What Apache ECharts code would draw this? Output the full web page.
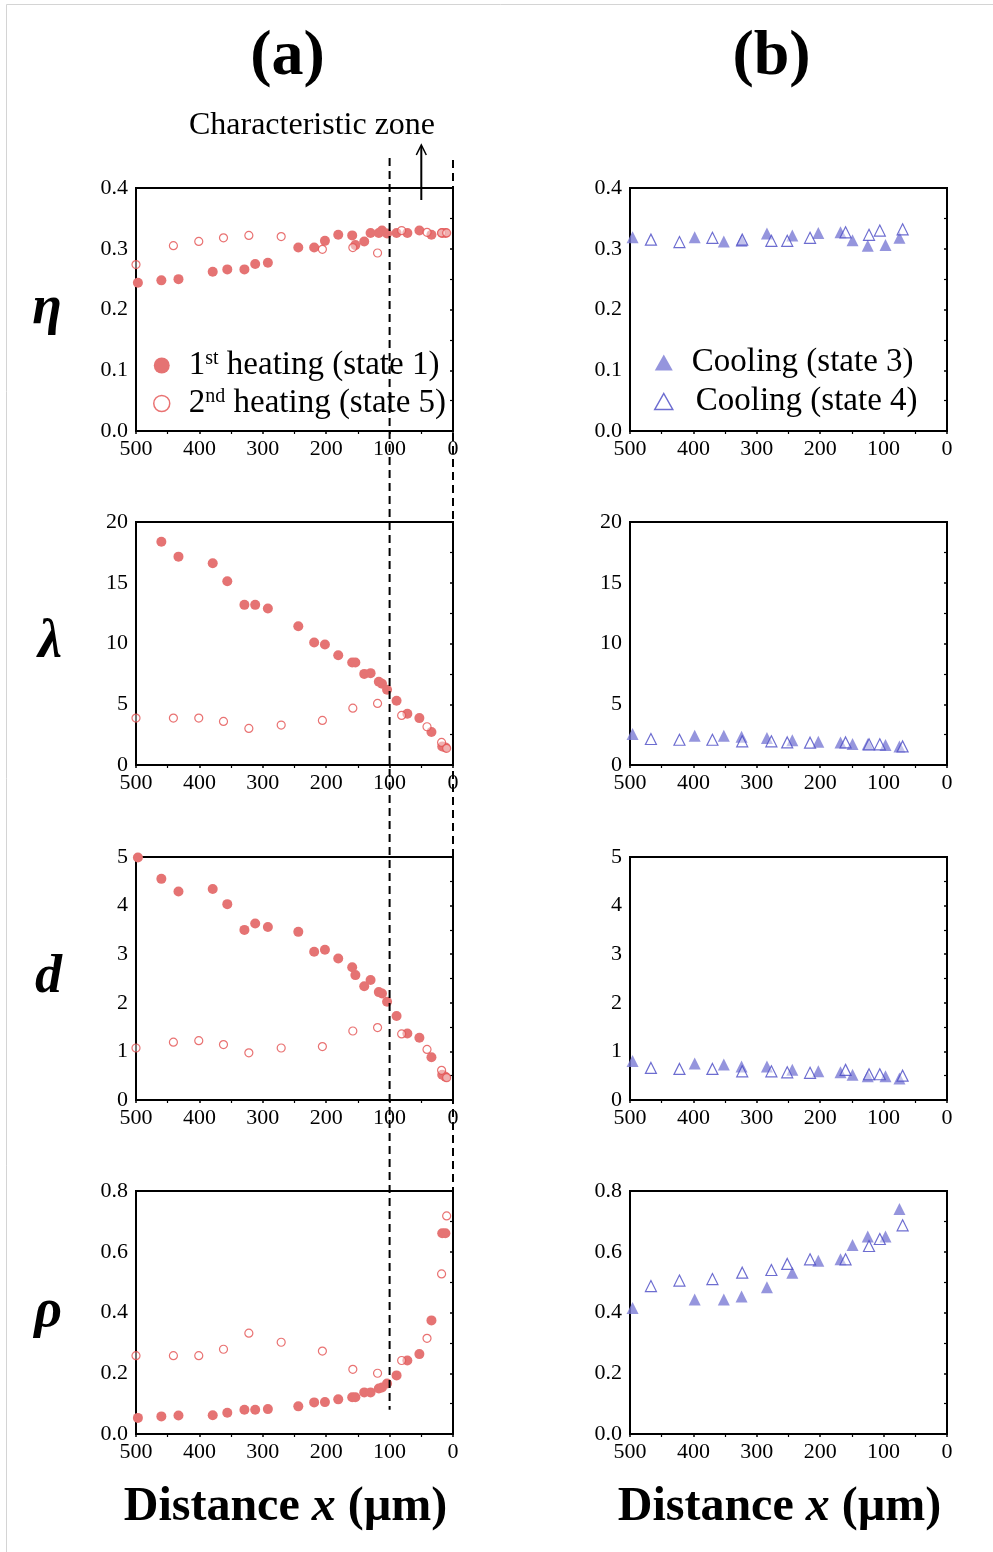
<!DOCTYPE html>
<html>
<head>
<meta charset="utf-8">
<script src="https://cdn.jsdelivr.net/npm/echarts@6/dist/echarts.min.js"></script>
<style>
  html, body { margin: 0; padding: 0; background: #fff; }
  #chart { width: 993px; height: 1552px; }
</style>
</head>
<body>
<div id="chart"></div>
<script>
// Distance from the surface (µm) for each measurement set
const dist1 = [497, 460, 433, 379, 356, 329, 312, 292, 244, 219, 202, 181, 159, 154, 140, 130, 117, 112, 104, 89, 72, 53, 34, 17, 12];
const dist5 = [500, 441, 401, 362, 322, 271, 206, 158, 119, 81, 41, 18, 10];
const dist3 = [496, 398, 352, 324, 284, 244, 203, 168, 149, 125, 97, 75];
const dist4 = [467, 422, 370, 323, 277, 252, 216, 160, 123, 106, 70];

// 1st heating (state 1)
const eta1 = [0.244, 0.248, 0.250, 0.262, 0.266, 0.266, 0.275, 0.277, 0.302, 0.302, 0.313, 0.323, 0.322, 0.306, 0.312, 0.326, 0.326, 0.330, 0.325, 0.326, 0.326, 0.330, 0.323, 0.326, 0.326];
const lambda1 = [null, 18.38, 17.15, 16.6, 15.12, 13.18, 13.18, 12.88, 11.42, 10.08, 9.92, 9.04, 8.44, 8.44, 7.5, 7.56, 6.85, 6.68, 6.19, 5.29, 4.22, 3.86, 2.71, 1.53, 1.45];
const d1 = [4.99, 4.55, 4.29, 4.34, 4.03, 3.50, 3.63, 3.56, 3.46, 3.05, 3.09, 2.91, 2.73, 2.57, 2.34, 2.47, 2.22, 2.19, 2.02, 1.73, 1.37, 1.28, 0.88, 0.52, 0.48];
const rho1 = [0.053, 0.058, 0.061, 0.062, 0.070, 0.080, 0.080, 0.082, 0.091, 0.104, 0.105, 0.114, 0.121, 0.121, 0.137, 0.137, 0.150, 0.153, 0.166, 0.193, 0.242, 0.263, 0.374, 0.661, 0.661];

// 2nd heating (state 5)
const eta5 = [0.274, 0.305, 0.312, 0.318, 0.322, 0.320, 0.299, 0.302, 0.293, 0.330, 0.327, 0.326, 0.326];
const lambda5 = [3.86, 3.86, 3.86, 3.59, 3.01, 3.29, 3.67, 4.68, 5.07, 4.08, 3.15, 1.86, 1.37];
const d5 = [1.07, 1.19, 1.22, 1.14, 0.97, 1.07, 1.10, 1.42, 1.49, 1.36, 1.04, 0.61, 0.46];
const rho5 = [0.258, 0.258, 0.258, 0.279, 0.332, 0.302, 0.273, 0.213, 0.200, 0.242, 0.315, 0.527, 0.718];

// Cooling (state 3)
const eta3 = [0.319, 0.319, 0.312, 0.313, 0.325, 0.322, 0.326, 0.327, 0.314, 0.305, 0.306, 0.318];
const lambda3 = [2.55, 2.41, 2.41, 2.33, 2.22, 2.03, 1.92, 1.86, 1.73, 1.70, 1.64, 1.53];
const d3 = [0.80, 0.75, 0.73, 0.69, 0.69, 0.62, 0.59, 0.57, 0.52, 0.49, 0.49, 0.44];
const rho3 = [0.415, 0.443, 0.443, 0.453, 0.483, 0.531, 0.570, 0.575, 0.622, 0.650, 0.650, 0.741];

// Cooling (state 4)
const eta4 = [0.315, 0.311, 0.318, 0.315, 0.313, 0.313, 0.318, 0.327, 0.323, 0.330, 0.332];
const lambda4 = [2.14, 2.08, 2.08, 1.95, 1.95, 1.86, 1.84, 1.86, 1.70, 1.70, 1.53];
const d4 = [0.66, 0.64, 0.64, 0.59, 0.59, 0.57, 0.56, 0.62, 0.53, 0.53, 0.50];
const rho4 = [0.487, 0.505, 0.510, 0.531, 0.540, 0.560, 0.575, 0.575, 0.619, 0.642, 0.687];

// Axis labels and ranges
const rowLabels = ['η', 'λ', 'd', 'ρ'];
const rowMax = [0.4, 20, 5, 0.8];
const rowInterval = [0.1, 5, 1, 0.2];
const rowDigits = [1, 0, 0, 1];
const xTicks = [0, 100, 200, 300, 400, 500];
const panelTitles = ['(a)', '(b)'];
const legendNames = ['1st heating (state 1)', '2nd heating (state 5)', 'Cooling (state 3)', 'Cooling (state 4)'];
const zoneLabel = 'Characteristic zone';
const zoneBounds = [100, 0];
const arrowAt = 50;

const FONT = '"Liberation Serif", "Times New Roman", serif';
const RED_FILL = '#e57373';
const RED_LINE = '#e34f4f';
const BLUE_FILL = '#7b7bd4';
const BLUE_LINE = '#4848c4';

const gridLefts = [136, 630];
const gridTops = [188, 522, 857, 1191];
const GRID_W = 317, GRID_H = 243;

const leftSets = [[eta1, eta5], [lambda1, lambda5], [d1, d5], [rho1, rho5]];
const rightSets = [[eta3, eta4], [lambda3, lambda4], [d3, d4], [rho3, rho4]];

function pairs(xs, ys) {
  return xs.map((x, i) => [x, ys[i]]).filter(p => p[1] !== null);
}

const grids = [], xAxes = [], yAxes = [], series = [];

for (let r = 0; r < 4; r++) {
  for (let c = 0; c < 2; c++) {
    const g = r * 2 + c;
    grids.push({
      left: gridLefts[c], top: gridTops[r], width: GRID_W, height: GRID_H,
      show: true, borderColor: '#000', borderWidth: 2, backgroundColor: 'transparent'
    });
    const xAxis = {
      gridIndex: g, type: 'value', min: xTicks[0], max: xTicks[xTicks.length - 1], interval: 100,
      inverse: true,
      axisLine: { show: true, onZero: false, lineStyle: { color: '#000', width: 2 } },
      axisTick: { show: true, inside: false, length: 3, lineStyle: { color: '#000', width: 1.5 } },
      minorTick: { show: true, splitNumber: 2, length: 3, lineStyle: { color: '#000', width: 1.2 } },
      splitLine: { show: false },
      axisLabel: { color: '#000', fontFamily: FONT, fontSize: 22, margin: 7, showMinLabel: true, showMaxLabel: true }
    };
    if (r === 3) {
      xAxis.name = '{n|Distance }{i|x}{n| (µm)}';
      xAxis.nameLocation = 'middle';
      xAxis.nameGap = 50;
      xAxis.nameTextStyle = {
        padding: [0, 18, 0, 0],
        rich: {
          n: { fontFamily: FONT, fontSize: 48, fontWeight: 'bold', color: '#000' },
          i: { fontFamily: FONT, fontSize: 48, fontWeight: 'bold', fontStyle: 'italic', color: '#000' }
        }
      };
    }
    xAxes.push(xAxis);
    const digits = rowDigits[r];
    const yAxis = {
      gridIndex: g, type: 'value', min: 0, max: rowMax[r], interval: rowInterval[r],
      axisLine: { show: true, lineStyle: { color: '#000', width: 2 } },
      axisTick: { show: true, inside: false, length: 3, lineStyle: { color: '#000', width: 1.5 } },
      minorTick: { show: true, splitNumber: 2, length: 3, lineStyle: { color: '#000', width: 1.2 } },
      splitLine: { show: false },
      axisLabel: { color: '#000', fontFamily: FONT, fontSize: 22, margin: 8, formatter: v => v.toFixed(digits) }
    };
    if (c === 0) {
      yAxis.name = rowLabels[r];
      yAxis.nameLocation = 'middle';
      yAxis.nameRotate = 0;
      yAxis.nameGap = 74;
      yAxis.nameTextStyle = { fontFamily: FONT, fontSize: 54, fontWeight: 'bold', fontStyle: 'italic', color: '#000' };
    }
    yAxes.push(yAxis);

    if (c === 0) {
      const [filled, open] = leftSets[r];
      series.push({
        name: legendNames[0], type: 'scatter', xAxisIndex: g, yAxisIndex: g,
        data: pairs(dist1, filled), symbol: 'circle', symbolSize: 10, z: 2,
        itemStyle: { color: RED_FILL, opacity: 1 }
      });
      series.push({
        name: legendNames[1], type: 'scatter', xAxisIndex: g, yAxisIndex: g,
        data: pairs(dist5, open), symbol: 'circle', symbolSize: 8, z: 3,
        itemStyle: { color: 'rgba(255,255,255,0.55)', borderColor: RED_LINE, borderWidth: 1.2 }
      });
    } else {
      const [filled, open] = rightSets[r];
      series.push({
        name: legendNames[2], type: 'scatter', xAxisIndex: g, yAxisIndex: g,
        data: pairs(dist3, filled), symbol: 'triangle', symbolSize: 12, z: 2,
        itemStyle: { color: BLUE_FILL }
      });
      series.push({
        name: legendNames[3], type: 'scatter', xAxisIndex: g, yAxisIndex: g,
        data: pairs(dist4, open), symbol: 'triangle', symbolSize: 11, z: 3,
        itemStyle: { color: 'rgba(255,255,255,0.55)', borderColor: BLUE_LINE, borderWidth: 1.2 }
      });
    }
  }
}

const LEG_FS = 33;
const legendRich = {
  n: { fontFamily: FONT, fontSize: LEG_FS, color: '#000' },
  p: { fontFamily: FONT, fontSize: LEG_FS, color: '#000', padding: [0, 0, 0, 14] },
  q: { fontFamily: FONT, fontSize: LEG_FS, color: '#000', padding: [0, 0, 0, 18] },
  s: { fontFamily: FONT, fontSize: 20, color: '#000', verticalAlign: 'top', padding: [0, 0, 13, 0] }
};
const legendFormat = {
  [legendNames[0]]: '{p|1}{s|st}{n| heating (state 1)}',
  [legendNames[1]]: '{p|2}{s|nd}{n| heating (state 5)}',
  [legendNames[2]]: '{p|Cooling (state 3)}',
  [legendNames[3]]: '{q|Cooling (state 4)}'
};

const option = {
  animation: false,
  backgroundColor: '#fff',
  grid: grids,
  xAxis: xAxes,
  yAxis: yAxes,
  series: series,
  legend: [
    {
      left: 148, top: 344, orient: 'vertical', itemGap: 5, itemWidth: 16, itemHeight: 16,
      selectedMode: false,
      data: [
        { name: legendNames[0], icon: 'circle', itemStyle: { color: RED_FILL } },
        { name: legendNames[1], icon: 'circle', itemStyle: { color: '#fff', borderColor: RED_LINE, borderWidth: 1.5 } }
      ],
      formatter: n => legendFormat[n],
      textStyle: { rich: legendRich }
    },
    {
      left: 649, top: 341, orient: 'vertical', itemGap: 6, itemWidth: 18, itemHeight: 16,
      selectedMode: false,
      data: [
        { name: legendNames[2], icon: 'triangle', itemStyle: { color: BLUE_FILL } },
        { name: legendNames[3], icon: 'triangle', itemStyle: { color: '#fff', borderColor: BLUE_LINE, borderWidth: 1.5 } }
      ],
      formatter: n => legendFormat[n],
      textStyle: { rich: legendRich }
    }
  ]
};

const chart = echarts.init(document.getElementById('chart'), null, { renderer: 'canvas' });
chart.setOption(option);

// Overlay: panel titles, the characteristic-zone marker and its bounds
const xZoneA = chart.convertToPixel({ xAxisIndex: 0 }, zoneBounds[0]);
const xZoneB = chart.convertToPixel({ xAxisIndex: 0 }, zoneBounds[1]);
const xArrow = chart.convertToPixel({ xAxisIndex: 0 }, arrowAt);
const yFirstTop = chart.convertToPixel({ yAxisIndex: 0 }, rowMax[0]);
const yLastBottom = chart.convertToPixel({ yAxisIndex: 6 }, 0);
const yLastCut = chart.convertToPixel({ yAxisIndex: 6 }, 0.08);
const colCenters = [gridLefts[0] + GRID_W / 2 - 7, gridLefts[1] + GRID_W / 2 - 17];

const dash = { stroke: '#000', lineWidth: 2, lineDash: [8, 5] };
chart.setOption({
  graphic: [
    { type: 'rect', silent: true, shape: { x: 6.5, y: 4.5, width: 1100, height: 1700 }, style: { fill: null, stroke: '#d4d4d4', lineWidth: 1 }, z: -10 },
    { type: 'text', x: colCenters[0], y: 57, style: { text: panelTitles[0], font: 'bold 64px ' + FONT, fill: '#000', align: 'center', verticalAlign: 'middle' } },
    { type: 'text', x: colCenters[1], y: 57, style: { text: panelTitles[1], font: 'bold 64px ' + FONT, fill: '#000', align: 'center', verticalAlign: 'middle' } },
    { type: 'text', x: 312, y: 126, style: { text: zoneLabel, font: '32px ' + FONT, fill: '#000', align: 'center', verticalAlign: 'middle' } },
    { type: 'line', shape: { x1: xZoneA, y1: yFirstTop - 30, x2: xZoneA, y2: yLastCut }, style: dash, z: 10 },
    { type: 'line', shape: { x1: xZoneB, y1: yFirstTop - 28, x2: xZoneB, y2: yLastBottom }, style: dash, z: 10 },
    { type: 'line', shape: { x1: xArrow, y1: yFirstTop + 12, x2: xArrow, y2: yFirstTop - 42 }, style: { stroke: '#000', lineWidth: 2 }, z: 10 },
    { type: 'polyline', shape: { points: [[xArrow - 5, yFirstTop - 33], [xArrow, yFirstTop - 43], [xArrow + 5, yFirstTop - 33]] }, style: { stroke: '#000', lineWidth: 1.5, fill: null }, z: 10 }
  ]
});
</script>
</body>
</html>
